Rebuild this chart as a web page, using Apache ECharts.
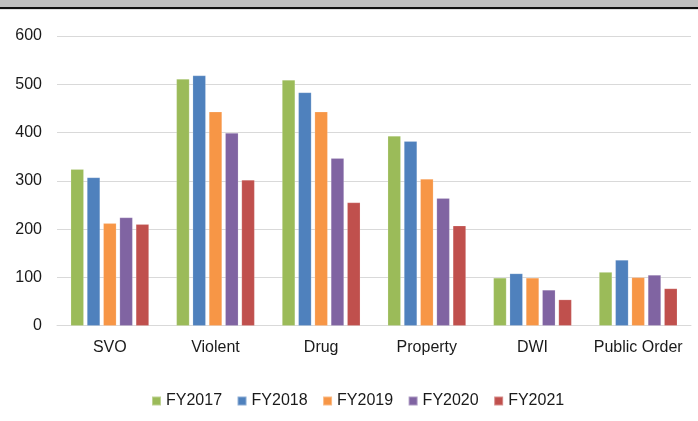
<!DOCTYPE html>
<html>
<head>
<meta charset="utf-8">
<script src="https://cdn.jsdelivr.net/npm/echarts@6/dist/echarts.min.js"></script>
<style>html,body{margin:0;padding:0;background:#fff}#c{width:698px;height:421px}</style>
</head>
<body>
<div id="c"></div>
<script>
const categories = ['SVO', 'Violent', 'Drug', 'Property', 'DWI', 'Public Order'];
const fy2017 = [324, 511, 509, 393, 99, 111];
const fy2018 = [307, 518, 483, 382, 108, 136];
const fy2019 = [212, 443, 443, 304, 99, 100];
const fy2020 = [224, 399, 347, 264, 74, 105];
const fy2021 = [210, 302, 255, 207, 54, 77];
const yTicks = [0, 100, 200, 300, 400, 500, 600];

const seriesDefs = [
  ['FY2017', fy2017, '#9BBB59'],
  ['FY2018', fy2018, '#4F81BD'],
  ['FY2019', fy2019, '#F79646'],
  ['FY2020', fy2020, '#8064A2'],
  ['FY2021', fy2021, '#C0504D']
];

const chart = echarts.init(document.getElementById('c'), null, {renderer: 'canvas'});
const font = 'Liberation Sans, Arial, sans-serif';
chart.setOption({
  animation: false,
  textStyle: {fontFamily: font},
  graphic: [
    {type: 'rect', shape: {x: 0, y: 0, width: 698, height: 7}, style: {fill: '#bfbfbf'}},
    {type: 'rect', shape: {x: 0, y: 7, width: 698, height: 2}, style: {fill: '#111'}},
    {type: 'rect', shape: {x: 0, y: 9, width: 698, height: 1}, style: {fill: '#e0e0e0'}}
  ],
  grid: {left: 57, right: 7, top: 36, bottom: 95.3, containLabel: false},
  legend: {
    data: seriesDefs.map(s => s[0]),
    left: 146, top: 388,
    itemWidth: 9, itemHeight: 9, itemGap: 14.5,
    icon: 'rect',
    textStyle: {fontSize: 16, color: '#1a1a1a', fontFamily: font}
  },
  xAxis: {
    type: 'category', data: categories,
    axisLine: {lineStyle: {color: '#d9d9d9', width: 1}},
    axisTick: {show: false},
    axisLabel: {interval: 0, fontSize: 16, color: '#1a1a1a', margin: 14, fontFamily: font}
  },
  yAxis: {
    type: 'value', min: yTicks[0], max: yTicks[yTicks.length - 1], interval: 100,
    axisLine: {show: false}, axisTick: {show: false},
    splitLine: {lineStyle: {color: '#d9d9d9', width: 1}},
    axisLabel: {fontSize: 16, color: '#1a1a1a', margin: 15, fontFamily: font}
  },
  series: seriesDefs.map(([name, data, color]) => ({
    name, type: 'bar', data,
    barGap: '25%', barCategoryGap: '26%',
    itemStyle: {color, borderColor: 'rgba(255,255,255,0.35)', borderWidth: 0.5}
  }))
});
</script>
</body>
</html>
